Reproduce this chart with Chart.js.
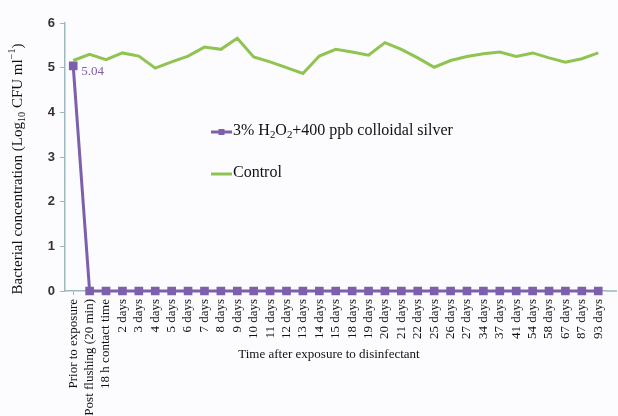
<!DOCTYPE html>
<html>
<head>
<meta charset="utf-8">
<script src="https://cdn.jsdelivr.net/npm/chart.js@4"></script>
<style>
  html, body { margin: 0; padding: 0; background: #fcfcfe; }
  #wrap { width: 618px; height: 416px; }
</style>
</head>
<body>
<div id="wrap"><canvas id="chart" width="618" height="416"></canvas></div>
<script>
var categories = ["Prior to exposure", "Post flushing (20 min)", "18 h contact time",
  "2 days", "3 days", "4 days", "5 days", "6 days", "7 days", "8 days", "9 days",
  "10 days", "11 days", "12 days", "13 days", "14 days", "15 days", "18 days",
  "19 days", "20 days", "21 days", "22 days", "25 days", "26 days", "27 days",
  "34 days", "37 days", "41 days", "54 days", "58 days", "67 days", "87 days", "93 days"];

var silverValues = [5.04, 0, 0, 0, 0, 0, 0, 0, 0, 0, 0, 0, 0, 0, 0, 0, 0, 0, 0, 0, 0,
  0, 0, 0, 0, 0, 0, 0, 0, 0, 0, 0, 0];

var controlValues = [5.16, 5.30, 5.18, 5.33, 5.26, 4.99, 5.13, 5.26, 5.46, 5.41, 5.66,
  5.24, 5.13, 5.00, 4.87, 5.26, 5.41, 5.35, 5.28, 5.56, 5.41, 5.22, 5.01, 5.16,
  5.25, 5.31, 5.35, 5.25, 5.33, 5.22, 5.12, 5.20, 5.33];

var yTicks = [0, 1, 2, 3, 4, 5, 6];

var purple = "#7d60ac";
var green = "#8fc450";
var axisColor = "#9db9bf";
var serif = "'Liberation Serif', 'Times New Roman', serif";

// draws text pieces with sub/superscripts, returns total width
function richText(ctx, parts, x, y, size, draw) {
  var w = 0;
  parts.forEach(function (p) {
    var s = p[1] ? size * 0.68 : size;
    var dy = p[1] === "sub" ? size * 0.28 : (p[1] === "sup" ? -size * 0.38 : 0);
    ctx.font = s + "px " + serif;
    if (draw) ctx.fillText(p[0], x + w, y + dy);
    w += ctx.measureText(p[0]).width;
  });
  return w;
}

// x axis line runs on past the last category to the right edge
var axisTail = {
  id: "axisTail",
  beforeDatasetsDraw: function (chart) {
    var ctx = chart.ctx, a = chart.chartArea;
    ctx.save();
    ctx.strokeStyle = axisColor;
    ctx.lineWidth = 1.5;
    ctx.beginPath(); ctx.moveTo(a.right, a.bottom); ctx.lineTo(chart.width - 1, a.bottom); ctx.stroke();
    ctx.restore();
  }
};

var labels = {
  id: "labels",
  afterDraw: function (chart) {
    var ctx = chart.ctx;
    ctx.save();
    ctx.textBaseline = "middle";
    ctx.textAlign = "left";

    // value label on the first point
    var p0 = chart.getDatasetMeta(0).data[0];
    ctx.fillStyle = purple;
    ctx.font = "13px " + serif;
    ctx.fillText(silverValues[0].toFixed(2), p0.x + 8, p0.y + 6);

    // legend inside the plot
    ctx.strokeStyle = purple;
    ctx.lineWidth = 3;
    ctx.beginPath(); ctx.moveTo(211, 132); ctx.lineTo(232, 132); ctx.stroke();
    ctx.fillStyle = purple;
    ctx.fillRect(218.5, 129, 6, 6);
    ctx.fillStyle = "#111";
    richText(ctx, [["3% H"], ["2", "sub"], ["O"], ["2", "sub"], ["+400 ppb colloidal silver"]], 233, 131, 16, true);

    ctx.strokeStyle = green;
    ctx.beginPath(); ctx.moveTo(211, 174); ctx.lineTo(232, 174); ctx.stroke();
    ctx.fillStyle = "#111";
    richText(ctx, [["Control"]], 233, 173, 16, true);

    // x axis title
    ctx.font = "13px " + serif;
    ctx.textAlign = "center";
    ctx.fillText("Time after exposure to disinfectant", 329, 355);

    // y axis title
    var parts = [["Bacterial concentration (Log"], ["10", "sub"], [" CFU ml"], ["\u22121", "sup"], [")"]];
    ctx.translate(18, 169);
    ctx.rotate(-Math.PI / 2);
    ctx.textAlign = "left";
    var tw = richText(ctx, parts, 0, 0, 15, false);
    richText(ctx, parts, -tw / 2, 0, 15, true);
    ctx.restore();
  }
};

var canvas = document.getElementById("chart");
var config = {
  type: "line",
  data: {
    labels: categories,
    datasets: [{
      label: "3% H2O2+400 ppb colloidal silver",
      data: silverValues,
      borderColor: purple,
      backgroundColor: purple,
      borderWidth: 3,
      pointStyle: "rect",
      pointRadius: 4,
      pointHoverRadius: 4,
      tension: 0,
      clip: false
    }, {
      label: "Control",
      data: controlValues,
      borderColor: green,
      backgroundColor: green,
      borderWidth: 3,
      pointRadius: 0,
      tension: 0,
      clip: false
    }]
  },
  options: {
    responsive: false,
    animation: false,
    layout: { padding: { top: 23, right: 10, left: 0, bottom: 0 } },
    plugins: {
      legend: { display: false },
      tooltip: { enabled: false }
    },
    scales: {
      x: {
        offset: true,
        grid: { display: true, drawOnChartArea: false, color: axisColor, tickLength: 4 },
        border: { color: axisColor, width: 1.5 },
        ticks: {
          autoSkip: false,
          maxRotation: 90,
          minRotation: 90,
          padding: 4,
          color: "#111",
          font: { family: serif, size: 13 }
        },
        afterFit: function (scale) { scale.height = 125; }
      },
      y: {
        min: 0,
        max: 6,
        afterBuildTicks: function (scale) {
          scale.ticks = yTicks.map(function (v) { return { value: v }; });
        },
        grid: { display: true, drawOnChartArea: false, color: axisColor, tickLength: 5 },
        border: { color: axisColor, width: 1.5 },
        ticks: {
          padding: 5,
          color: "#333",
          font: { family: "'Liberation Sans', sans-serif", size: 13, weight: "bold" }
        },
        afterFit: function (scale) { scale.width = 65; }
      }
    }
  },
  plugins: [axisTail, labels]
};

var lineChart = new Chart(canvas, config);
</script>
</body>
</html>
